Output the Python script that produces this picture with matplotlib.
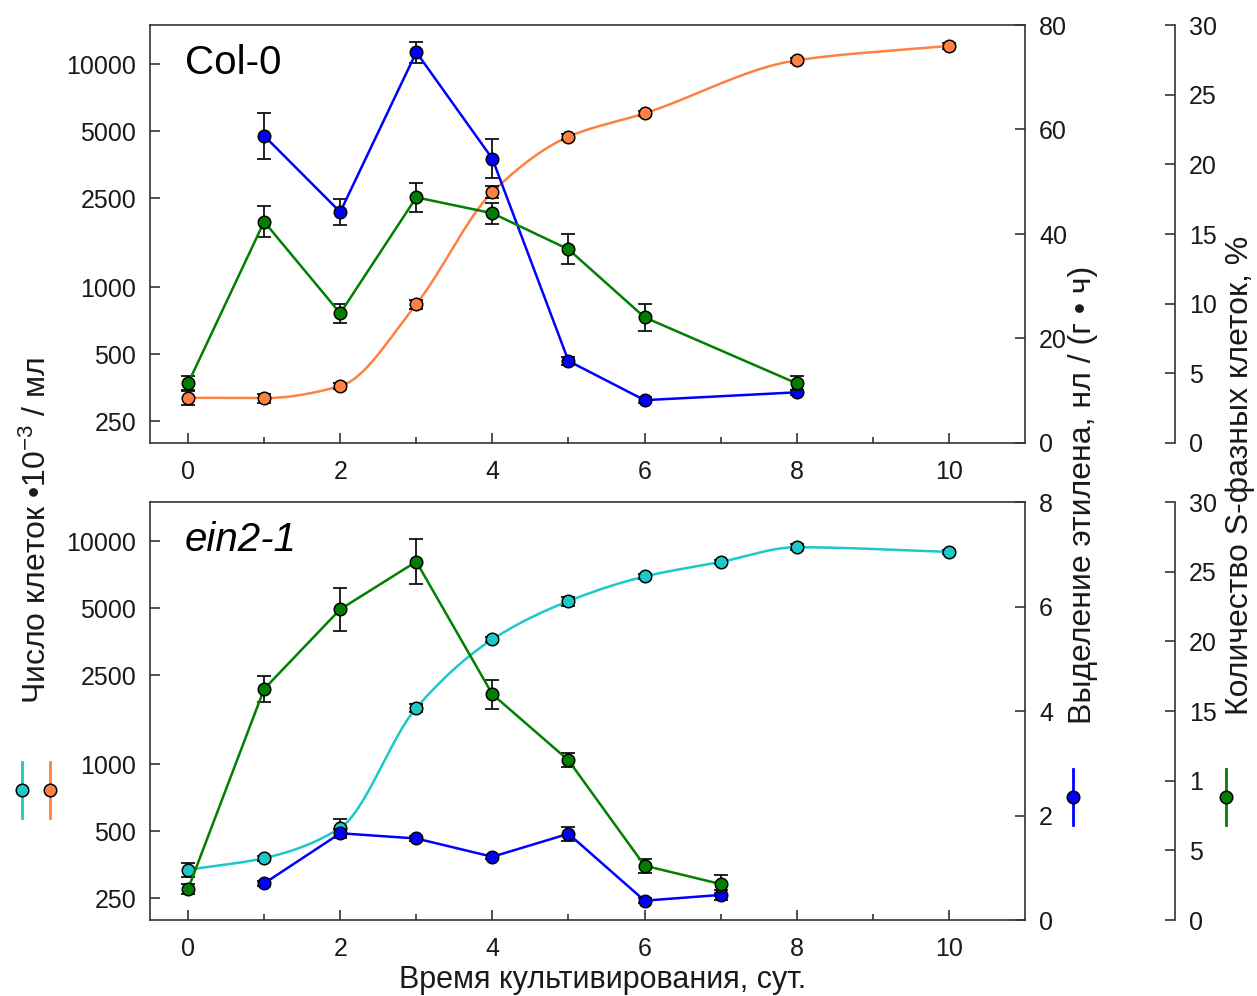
import numpy as np
import matplotlib
matplotlib.use("Agg")
import matplotlib.pyplot as plt
from matplotlib.lines import Line2D
from matplotlib.patches import Rectangle
from matplotlib.ticker import FixedLocator, NullLocator, FixedFormatter

plt.rcParams['font.family'] = ['Liberation Sans', 'DejaVu Sans']
plt.rcParams['mathtext.fontset'] = 'custom'
plt.rcParams['mathtext.rm'] = 'Liberation Sans'
plt.rcParams['mathtext.it'] = 'Liberation Sans:italic'

# ---- Col-0 -------------------------------------------------------------
col_cell_days = [0, 1, 2, 3, 4, 5, 6, 8, 10]
col_cells = [319, 318, 360, 840, 2670, 4730, 6020, 10420, 12080]
col_cells_err = [22, 15, 12, 40, 170, 150, 150, 300, 350]

col_eth_days = [1, 2, 3, 4, 5, 6, 8]
col_eth = [58.8, 44.2, 74.8, 54.4, 15.7, 8.2, 9.7]
col_eth_err = [4.4, 2.5, 2.0, 3.7, 0.8, 0.6, 0.5]

col_s_days = [0, 1, 2, 3, 4, 5, 6, 8]
col_s = [4.28, 15.88, 9.31, 17.63, 16.49, 13.9, 9.02, 4.28]
col_s_err = [0.5, 1.1, 0.7, 1.06, 0.76, 1.08, 0.96, 0.5]

# ---- ein2-1 ------------------------------------------------------------
ein_cell_days = [0, 1, 2, 3, 4, 5, 6, 7, 8, 10]
ein_cells = [336, 379, 518, 1790, 3630, 5390, 6950, 8080, 9400, 8960]
ein_cells_err = [25, 10, 50, 80, 100, 250, 200, 200, 300, 200]

ein_eth_days = [1, 2, 3, 4, 5, 6, 7]
ein_eth = [0.70, 1.66, 1.56, 1.21, 1.65, 0.37, 0.48]
ein_eth_err = [0.05, 0.08, 0.04, 0.04, 0.13, 0.05, 0.10]

ein_s_days = [0, 1, 2, 3, 4, 5, 6, 7]
ein_s = [2.22, 16.58, 22.3, 25.72, 16.2, 11.46, 3.9, 2.58]
ein_s_err = [0.35, 0.93, 1.56, 1.6, 1.04, 0.5, 0.5, 0.65]

# ---- axis settings -----------------------------------------------------
cell_ticks = [250, 500, 1000, 2500, 5000, 10000]
day_ticks = [0, 2, 4, 6, 8, 10]
s_ticks = [0, 5, 10, 15, 20, 25, 30]
eth_ticks_top = [0, 20, 40, 60, 80]
eth_ticks_bot = [0, 2, 4, 6, 8]

C_ORANGE = '#FF8040'
C_CYAN = '#1CC8C8'
C_BLUE = '#0000FF'
C_GREEN = '#007F00'
C_AX = '#333333'
C_TXT = '#1a1a1a'

W, H = 1257, 996
FS = 18      # tick labels
FS_LAB = 23  # axis titles


def pchip(x, y, xs):
    """Monotone piecewise-cubic Hermite curve through (x, y)."""
    x = np.asarray(x, float)
    y = np.asarray(y, float)
    h = np.diff(x)
    delta = np.diff(y) / h
    n = len(x)
    m = np.zeros(n)
    for k in range(1, n - 1):
        if delta[k - 1] * delta[k] > 0:
            w1 = 2 * h[k] + h[k - 1]
            w2 = h[k] + 2 * h[k - 1]
            m[k] = (w1 + w2) / (w1 / delta[k - 1] + w2 / delta[k])
    m[0] = delta[0]
    m[-1] = delta[-1]
    idx = np.clip(np.searchsorted(x, xs) - 1, 0, n - 2)
    t = (xs - x[idx]) / h[idx]
    h00 = 2 * t ** 3 - 3 * t ** 2 + 1
    h10 = t ** 3 - 2 * t ** 2 + t
    h01 = -2 * t ** 3 + 3 * t ** 2
    h11 = t ** 3 - t ** 2
    return (h00 * y[idx] + h10 * h[idx] * m[idx]
            + h01 * y[idx + 1] + h11 * h[idx] * m[idx + 1])


def fig_rect(l, t, r, b):
    return [l / W, 1 - b / H, (r - l) / W, (b - t) / H]


mk = dict(marker='o', markersize=9, markeredgecolor='black', markeredgewidth=1.1)
eb = dict(ecolor='#111111', elinewidth=1.3, capsize=5, capthick=1.3)


def panel(rect, cells_x, cells, cells_err, cell_color, eth_x, eth, eth_err,
          eth_lim, eth_ticks, s_x, s, s_err, title, italic):
    ax = fig.add_axes(rect)
    ax.set_yscale('log')
    ax.set_ylim(200, 15000)
    ax.set_xlim(-0.5, 11)
    for sp in ax.spines.values():
        sp.set_color(C_AX)
        sp.set_linewidth(1.2)
    ax.yaxis.set_major_locator(FixedLocator(cell_ticks))
    ax.yaxis.set_major_formatter(FixedFormatter([str(v) for v in cell_ticks]))
    ax.yaxis.set_minor_locator(NullLocator())
    ax.xaxis.set_major_locator(FixedLocator(day_ticks))
    ax.xaxis.set_minor_locator(FixedLocator([1, 3, 5, 7, 9]))
    ax.tick_params(axis='y', which='major', direction='in', length=7, width=1.2,
                   color=C_AX, labelsize=FS, labelcolor=C_TXT, pad=10,
                   right=False)
    ax.tick_params(axis='x', which='major', direction='in', length=7, width=1.2,
                   color=C_AX, labelsize=FS, labelcolor=C_TXT, pad=12, top=False)
    ax.tick_params(axis='x', which='minor', direction='in', length=4.5, width=1.2,
                   color=C_AX, top=False)

    # cell counts: smooth curve through the measured points
    xs = np.linspace(cells_x[0], cells_x[-1], 300)
    ys = 10 ** pchip(cells_x, np.log10(cells), xs)
    ax.plot(xs, ys, color=cell_color, lw=1.8, zorder=2)
    ax.errorbar(cells_x, cells, yerr=cells_err, fmt='none', zorder=3, **eb)
    ax.plot(cells_x, cells, ls='none', markerfacecolor=cell_color, zorder=4, **mk)

    # ethylene
    ae = ax.twinx()
    ae.set_ylim(*eth_lim)
    ae.set_xlim(-0.5, 11)
    for sp in ae.spines.values():
        sp.set_visible(False)
    ae.yaxis.set_major_locator(FixedLocator(eth_ticks))
    ae.tick_params(axis='y', direction='in', length=7, width=1.2, color=C_AX,
                   labelsize=FS, labelcolor=C_TXT, pad=10)
    ae.errorbar(eth_x, eth, yerr=eth_err, fmt='none', zorder=3, **eb)
    ae.plot(eth_x, eth, color=C_BLUE, lw=1.8, markerfacecolor=C_BLUE, zorder=4, **mk)

    # S-phase cells
    a_s = ax.twinx()
    a_s.set_ylim(0, 30)
    a_s.set_xlim(-0.5, 11)
    for k, sp in a_s.spines.items():
        sp.set_visible(k == 'right')
    a_s.spines['right'].set_position(('axes', (1175 - 150) / 875))
    a_s.spines['right'].set_color(C_AX)
    a_s.spines['right'].set_linewidth(1.2)
    a_s.yaxis.set_major_locator(FixedLocator(s_ticks))
    a_s.tick_params(axis='y', direction='in', length=7, width=1.2, color=C_AX,
                    labelsize=FS, labelcolor=C_TXT, pad=10)
    a_s.errorbar(s_x, s, yerr=s_err, fmt='none', zorder=3, **eb)
    a_s.plot(s_x, s, color=C_GREEN, lw=1.8, markerfacecolor=C_GREEN, zorder=4, **mk)

    ax.text(0.04, 0.91, title, transform=ax.transAxes, fontsize=29,
            fontstyle='italic' if italic else 'normal', color='black',
            ha='left', va='center')
    return ax, ae, a_s


fig = plt.figure(figsize=(W / 100, H / 100), dpi=100)

panel(fig_rect(150, 25, 1025, 443), col_cell_days, col_cells, col_cells_err, C_ORANGE,
      col_eth_days, col_eth, col_eth_err, (0, 80), eth_ticks_top,
      col_s_days, col_s, col_s_err, 'Col-0', False)
panel(fig_rect(150, 502, 1025, 920), ein_cell_days, ein_cells, ein_cells_err, C_CYAN,
      ein_eth_days, ein_eth, ein_eth_err, (0, 8), eth_ticks_bot,
      ein_s_days, ein_s, ein_s_err, 'ein2-1', True)

# axis titles
fig.text(603 / W, 1 - 980 / H, 'Время культивирования, сут.', fontsize=FS_LAB - 1,
         ha='center', va='center', color=C_TXT)
fig.text(37 / W, 1 - 530 / H, 'Число клеток •10$^{-3}$ / мл', fontsize=FS_LAB,
         rotation=90, ha='center', va='center', color=C_TXT)
fig.text(1083 / W, 1 - 495 / H, 'Выделение этилена, нл / (г • ч)', fontsize=FS_LAB,
         rotation=90, ha='center', va='center', color=C_TXT)
fig.text(1240 / W, 1 - 475 / H, 'Количество S-фазных клеток, %', fontsize=FS_LAB,
         rotation=90, ha='center', va='center', color=C_TXT)


# series keys drawn next to the axes they belong to
def key(xpx, color, ypx=790, half=28, backing=False):
    if backing:
        fig.add_artist(Rectangle(((xpx - 23) / W, 1 - (ypx + 34) / H), 46 / W, 68 / H,
                                 transform=fig.transFigure, facecolor='white',
                                 edgecolor='none', zorder=9))
    fig.add_artist(Line2D([xpx / W, xpx / W], [1 - (ypx - half) / H, 1 - (ypx + half) / H],
                          transform=fig.transFigure, color=color, lw=2, zorder=10))
    fig.add_artist(Line2D([xpx / W], [1 - ypx / H], transform=fig.transFigure,
                          marker='o', markersize=9, markerfacecolor=color,
                          markeredgecolor='black', markeredgewidth=1.1, zorder=11))


key(22, C_CYAN)
key(50, C_ORANGE)
key(1073, C_BLUE, ypx=797)
key(1226, C_GREEN, ypx=797, backing=True)

fig.savefig('out.png', dpi=100, facecolor='white')
